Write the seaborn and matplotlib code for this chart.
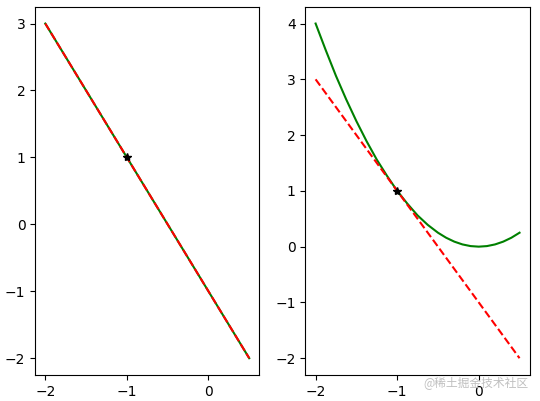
import matplotlib
matplotlib.use("Agg")
import matplotlib.pyplot as plt
import seaborn as sns

# Line x values and its tangent (left panel: the function is itself a line)
line_x = [-2.0, 0.5]
line_y = [3.0, -2.0]

# Right panel: curve
curve_x = [-2.0, -1.875, -1.75, -1.625, -1.5, -1.375, -1.25, -1.125, -1.0,
           -0.875, -0.75, -0.625, -0.5, -0.4, -0.3, -0.2, -0.1, 0.0,
           0.1, 0.2, 0.3, 0.4, 0.5]
curve_y = [4.0, 3.52, 3.06, 2.64, 2.25, 1.89, 1.56, 1.27, 1.0,
           0.77, 0.56, 0.39, 0.25, 0.16, 0.09, 0.04, 0.01, 0.0,
           0.01, 0.04, 0.09, 0.16, 0.25]

# Tangent line at the marked point
tangent_x = [-2.0, 0.5]
tangent_y = [3.0, -2.0]

point_x = [-1.0]
point_y = [1.0]

fig, axes = plt.subplots(1, 2, figsize=(5.4, 4.01), dpi=100)
fig.subplots_adjust(left=0.065, right=0.981, top=0.983, bottom=0.065, wspace=0.205)

# Left panel
ax = axes[0]
sns.lineplot(x=line_x, y=line_y, ax=ax, color="green", linewidth=1.5, sort=False)
sns.lineplot(x=tangent_x, y=tangent_y, ax=ax, color="red", linewidth=1.5,
             linestyle="--", sort=False)
ax.plot(point_x, point_y, marker="*", color="black", linestyle="none")

# Right panel
ax = axes[1]
sns.lineplot(x=curve_x, y=curve_y, ax=ax, color="green", linewidth=1.5, sort=False)
sns.lineplot(x=tangent_x, y=tangent_y, ax=ax, color="red", linewidth=1.5,
             linestyle="--", sort=False)
ax.plot(point_x, point_y, marker="*", color="black", linestyle="none")

for ax in axes:
    ax.set_xticks([-2, -1, 0])

# Watermark
fig.text(0.978, 0.047, "@稀土掘金技术社区", ha="right", va="center",
         fontsize=8.5, color="#c0c0c0",
         family=["Noto Sans CJK SC", "DejaVu Sans"])

fig.savefig("out.png", dpi=100)
